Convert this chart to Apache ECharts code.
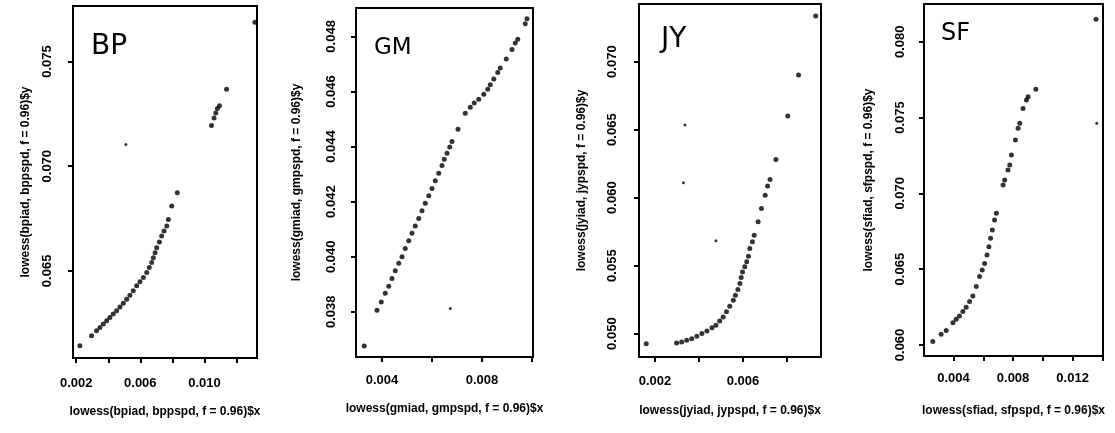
<!DOCTYPE html>
<html><head><meta charset="utf-8">
<script src="https://cdn.jsdelivr.net/npm/echarts@6/dist/echarts.min.js"></script>
<style>html,body{margin:0;padding:0;background:#fff}#c{width:1115px;height:433px}</style>
</head><body><div id="c"></div>
<script>
// ---- data ----
const panelNames = ['BP', 'GM', 'JY', 'SF'];

const bpX = [0.00223,0.00296,0.00327,0.00348,0.00369,0.00390,0.00410,0.00431,0.00452,0.00473,0.00494,0.00515,0.00535,0.00556,0.00577,0.00598,0.00619,0.00640,0.00656,0.00671,0.00681,0.00692,0.00702,0.00719,0.00733,0.00748,0.00765,0.00775,0.00796,0.00831,0.01044,0.01060,0.01071,0.01081,0.01094,0.01138,0.01315];
const bpY = [0.06143,0.06190,0.06214,0.06230,0.06246,0.06262,0.06278,0.06294,0.06310,0.06327,0.06346,0.06365,0.06384,0.06405,0.06429,0.06448,0.06468,0.06492,0.06516,0.06540,0.06563,0.06587,0.06611,0.06638,0.06667,0.06690,0.06714,0.06746,0.06810,0.06873,0.07194,0.07230,0.07254,0.07275,0.07289,0.07368,0.07687];
const bpOutX = [0.00510];
const bpOutY = [0.07103];

const gmX = [0.00329,0.00380,0.00397,0.00413,0.00427,0.00440,0.00453,0.00467,0.00480,0.00493,0.00507,0.00520,0.00533,0.00547,0.00560,0.00573,0.00587,0.00600,0.00613,0.00627,0.00640,0.00649,0.00660,0.00671,0.00680,0.00704,0.00733,0.00753,0.00769,0.00787,0.00807,0.00823,0.00833,0.00847,0.00863,0.00873,0.00897,0.00920,0.00933,0.00943,0.00973,0.00980];
const gmY = [0.03676,0.03806,0.03836,0.03867,0.03893,0.03921,0.03949,0.03976,0.04000,0.04030,0.04058,0.04085,0.04112,0.04139,0.04167,0.04194,0.04221,0.04248,0.04276,0.04303,0.04331,0.04354,0.04376,0.04398,0.04418,0.04463,0.04521,0.04543,0.04558,0.04572,0.04590,0.04608,0.04624,0.04645,0.04669,0.04685,0.04718,0.04752,0.04776,0.04790,0.04846,0.04864];
const gmOutX = [0.00673];
const gmOutY = [0.03812];

const jyX = [0.00160,0.00298,0.00321,0.00344,0.00367,0.00390,0.00413,0.00436,0.00459,0.00477,0.00494,0.00510,0.00525,0.00540,0.00556,0.00566,0.00577,0.00586,0.00592,0.00598,0.00608,0.00617,0.00625,0.00631,0.00643,0.00651,0.00669,0.00684,0.00701,0.00712,0.00723,0.00750,0.00804,0.00853,0.00931];
const jyY = [0.04926,0.04931,0.04939,0.04951,0.04963,0.04980,0.05000,0.05020,0.05044,0.05061,0.05093,0.05123,0.05160,0.05201,0.05245,0.05282,0.05324,0.05368,0.05412,0.05454,0.05491,0.05528,0.05569,0.05626,0.05675,0.05724,0.05822,0.05920,0.06018,0.06085,0.06134,0.06281,0.06600,0.06902,0.07336];
const jyOutX = [0.00336,0.00329,0.00477];
const jyOutY = [0.06534,0.06109,0.05682];

const sfX = [0.00261,0.00317,0.00351,0.00396,0.00418,0.00440,0.00463,0.00485,0.00508,0.00530,0.00553,0.00575,0.00593,0.00609,0.00625,0.00638,0.00649,0.00661,0.00676,0.00688,0.00733,0.00744,0.00766,0.00778,0.00789,0.00816,0.00834,0.00845,0.00867,0.00890,0.00901,0.00953,0.01357];
const sfY = [0.06022,0.06070,0.06095,0.06147,0.06169,0.06191,0.06220,0.06248,0.06286,0.06323,0.06385,0.06451,0.06495,0.06538,0.06593,0.06648,0.06703,0.06758,0.06824,0.06868,0.07055,0.07088,0.07154,0.07187,0.07253,0.07352,0.07429,0.07462,0.07560,0.07615,0.07637,0.07686,0.08149];
const sfOutX = [0.01362];
const sfOutY = [0.07462];

// tick positions and labels
const bpXTicks = [0.002,0.004,0.006,0.008,0.010,0.012];
const bpXLabels = [0.002,0.006,0.010];
const bpYTicks = [0.065,0.070,0.075];
const gmXTicks = [0.004,0.006,0.008,0.010];
const gmXLabels = [0.004,0.008];
const gmYTicks = [0.038,0.040,0.042,0.044,0.046,0.048];
const jyXTicks = [0.002,0.004,0.006,0.008];
const jyXLabels = [0.002,0.006];
const jyYTicks = [0.050,0.055,0.060,0.065,0.070];
const sfXTicks = [0.004,0.006,0.008,0.010,0.012,0.014];
const sfXLabels = [0.004,0.008,0.012];
const sfYTicks = [0.060,0.065,0.070,0.075,0.080];

const xTitles = ['lowess(bpiad, bppspd, f = 0.96)$x','lowess(gmiad, gmpspd, f = 0.96)$x','lowess(jyiad, jypspd, f = 0.96)$x','lowess(sfiad, sfpspd, f = 0.96)$x'];
const yTitles = ['lowess(bpiad, bppspd, f = 0.96)$y','lowess(gmiad, gmpspd, f = 0.96)$y','lowess(jyiad, jypspd, f = 0.96)$y','lowess(sfiad, sfpspd, f = 0.96)$y'];

// ---- layout ----
const panels = [
  {x: bpX, y: bpY, ox: bpOutX, oy: bpOutY, xt: bpXTicks, xl: bpXLabels, yt: bpYTicks,
   grid: {left: 73, top: 6, width: 184, height: 352}, xr: [0.0018, 0.01328], yr: [0.06084, 0.07765],
   xGap: 48, yGap: 41, xm: 19, ym: 19, tag: {left: 91, top: 33, size: 28}},
  {x: gmX, y: gmY, ox: gmOutX, oy: gmOutY, xt: gmXTicks, xl: gmXLabels, yt: gmYTicks,
   grid: {left: 356, top: 8, width: 177, height: 349}, xr: [0.00296, 0.01004], yr: [0.03636, 0.04903],
   xGap: 46, yGap: 53, xm: 17, ym: 18, tag: {left: 374, top: 37, size: 23}},
  {x: jyX, y: jyY, ox: jyOutX, oy: jyOutY, xt: jyXTicks, xl: jyXLabels, yt: jyYTicks,
   grid: {left: 639, top: 4, width: 182, height: 353}, xr: [0.00127, 0.00955], yr: [0.04828, 0.07424],
   xGap: 48, yGap: 51, xm: 18, ym: 20, tag: {left: 661, top: 26, size: 28}},
  {x: sfX, y: sfY, ox: sfOutX, oy: sfOutY, xt: sfXTicks, xl: sfXLabels, yt: sfYTicks,
   grid: {left: 924, top: 4, width: 179, height: 352}, xr: [0.00202, 0.01404], yr: [0.05927, 0.08249],
   xGap: 49, yGap: 49, xm: 16, ym: 17, tag: {left: 941, top: 22, size: 24}}
];

const FONT = 'Liberation Sans, Arial, sans-serif';
const fmt = v => v.toFixed(3);
const grids = [], xAxes = [], yAxes = [], series = [], titles = [];
panels.forEach((p, i) => {
  grids.push(Object.assign({show: true, borderColor: '#000', borderWidth: 2, backgroundColor: 'transparent'}, p.grid));
  const tickStyle = {show: true, length: 5, inside: false, lineStyle: {color: '#000', width: 2}};
  const labStyle = {color: '#000', fontSize: 13, fontWeight: 'bold', fontFamily: FONT, formatter: fmt};
  xAxes.push({
    type: 'value', gridIndex: i, min: p.xr[0], max: p.xr[1],
    axisLine: {show: false}, splitLine: {show: false},
    axisTick: Object.assign({customValues: p.xt}, tickStyle),
    axisLabel: Object.assign({customValues: p.xl, margin: p.xm}, labStyle),
    name: xTitles[i], nameLocation: 'middle', nameGap: p.xGap,
    nameTextStyle: {color: '#000', fontSize: 12, fontWeight: 'bold', fontFamily: FONT}
  });
  yAxes.push({
    type: 'value', gridIndex: i, min: p.yr[0], max: p.yr[1],
    axisLine: {show: false}, splitLine: {show: false},
    axisTick: Object.assign({customValues: p.yt}, tickStyle),
    axisLabel: Object.assign({customValues: p.yt, margin: p.ym, rotate: 90}, labStyle),
    name: yTitles[i], nameLocation: 'middle', nameGap: p.yGap, nameRotate: 90,
    nameTextStyle: {color: '#000', fontSize: 12, fontWeight: 'bold', fontFamily: FONT}
  });
  series.push({
    type: 'scatter', xAxisIndex: i, yAxisIndex: i, symbol: 'circle', symbolSize: 5,
    itemStyle: {color: '#000'}, silent: true,
    data: p.x.map((v, k) => [v, p.y[k]])
  });
  series.push({
    type: 'scatter', xAxisIndex: i, yAxisIndex: i, symbol: 'circle', symbolSize: 3,
    itemStyle: {color: '#000'}, silent: true,
    data: p.ox.map((v, k) => [v, p.oy[k]])
  });
  titles.push({
    text: panelNames[i], left: p.tag.left, top: p.tag.top, padding: 0,
    textStyle: {color: '#000', fontSize: p.tag.size, fontWeight: 'normal', fontFamily: 'DejaVu Sans'}
  });
});

const chart = echarts.init(document.getElementById('c'), null, {renderer: 'canvas'});
chart.setOption({
  backgroundColor: '#fff', animation: false,
  title: titles, grid: grids, xAxis: xAxes, yAxis: yAxes, series: series
});
</script>
</body></html>
